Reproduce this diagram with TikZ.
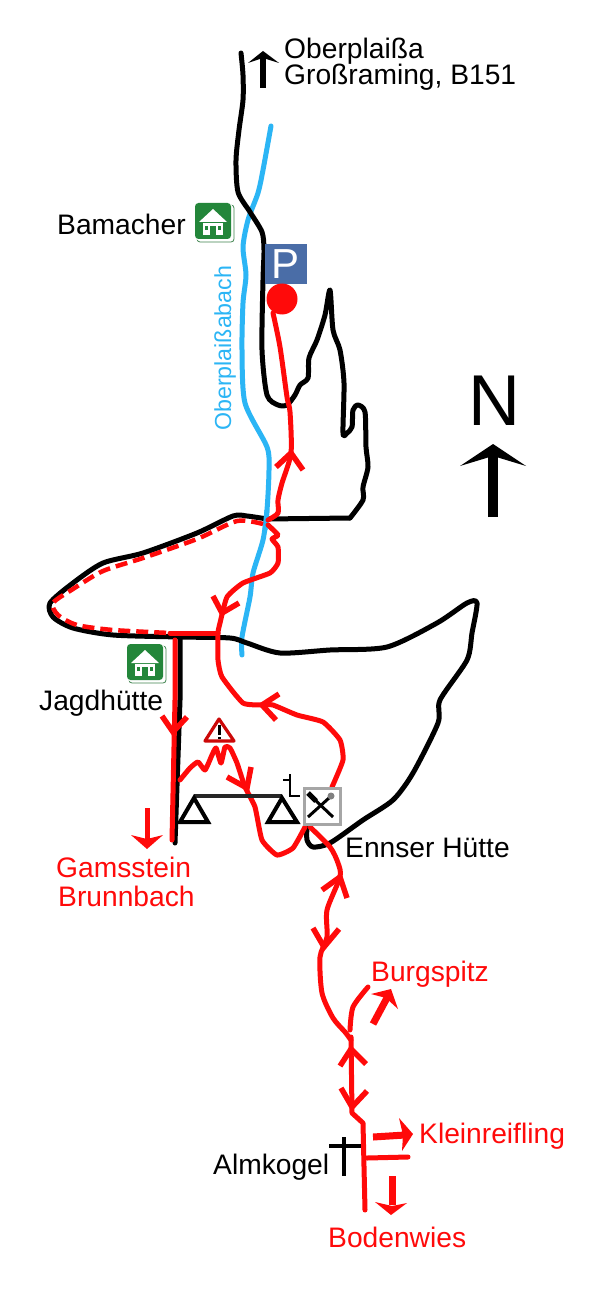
\documentclass[tikz,border=0pt]{standalone}
\usepackage{fontspec}
\setmainfont{Liberation Sans}
\definecolor{rd}{HTML}{FF0A0A}
\definecolor{rv}{HTML}{2BB5F5}
\definecolor{grn}{HTML}{23863A}
\definecolor{pblue}{HTML}{4A6DA7}
\tikzset{
 road/.style={draw=black,line width=5pt,line cap=round,line join=round},
 rivr/.style={draw=rv,line width=5pt,line cap=round,line join=round},
 route/.style={draw=rd,line width=5pt,line cap=round,line join=round},
 dashroute/.style={draw=rd,line width=4.5pt,dash pattern=on 12pt off 6pt,line join=round},
 barb/.style={draw=rd,line width=5.5pt,line join=miter},
 lbl/.style={anchor=base west,inner sep=0pt,font=\fontsize{28.2}{30}\selectfont},
 rlbl/.style={lbl,text=rd},
 curve/.style={smooth,tension=0.45},
}
\newcommand{\hutIcon}[2]{%
 \begin{scope}[shift={(#1,#2)}]
  \draw[grn!70!gray,line width=0.8pt,rounded corners=3pt] (2,2) rectangle (39,39);
  \fill[white,rounded corners=3pt] (0,0) rectangle (37,37);
  \fill[grn,rounded corners=3.5pt] (0,0) rectangle (36,36);
  \fill[white] (18,6) -- (32,19) -- (4,19) -- cycle;
  \fill[white] (8,20) rectangle (28,32);
  \fill[grn] (15,23) rectangle (21,32);
  \fill[grn] (10,23) rectangle (13,27);
  \fill[grn] (23,23) rectangle (26,27);
 \end{scope}}
\begin{document}
\begin{tikzpicture}[x=1pt,y=-1pt]
\useasboundingbox (0,0) rectangle (600,1305);
\fill[white] (0,0) rectangle (600,1305);
% river
\draw[rivr] plot[curve] coordinates {(271,126) (263,170) (258,193) (248,220) (243,247) (246,275) (243,303) (242,350) (245,403) (267,447) (269,470) (267,510) (263,540) (253,573) (250,597) (242,637) (242,655)};
% black roads
\draw[road] plot[curve] coordinates {(241,53) (243,75) (243,100) (239,130) (236,160) (238,192) (250,212) (262,232) (264,250) (263,280) (262,350) (267,395) (278,405) (287,405) (295,395) (300,385) (308,378) (309,358) (317,340) (325,315) (330,290) (333,330) (340,350) (344,383) (343,433) (347,433) (352,427) (353,410) (358,405) (365,412) (366,447) (368,467) (363,487) (363,500) (350,518)};
\draw[road] (350,518) -- (267,519);
\draw[road] plot[curve] coordinates {(267,519) (247,516) (233,516) (197,533) (143,553) (103,563) (73,583) (50,603) (53,617) (73,628) (113,635) (180,637) (230,638) (247,643) (280,653) (330,650) (387,647) (437,623) (467,603) (477,603) (472,633) (467,660) (440,700) (438,723) (413,773) (393,800) (363,820) (330,843) (313,847) (307,840) (307,827)};
\draw[road] (180,637) -- (180,700) -- (175,843);
% river over road at crossing
\draw[rivr,line cap=butt] (267,510) -- (265,530);
% red dashed loop
\draw[dashroute] plot[curve] coordinates {(263,524) (237,521) (197,539) (143,558) (103,571) (73,589) (53,603) (58,615) (77,625) (113,630) (170,633)};
% red route
\draw[route] (170,633) -- (218,633);
\draw[route] (175,640) -- (175,700) -- (172,840);
\draw[route] plot[curve] coordinates {(273,313) (280,347) (287,397) (290,412) (291,453) (282,483) (278,500) (278,513) (268,520)};
\draw[route] plot[curve,tension=0.3] coordinates {(268,525) (278,535) (272,539) (278,547) (278,563) (270,573) (243,583) (227,597) (220,623) (218,633) (218,660) (222,677) (243,703) (263,705) (273,705) (297,715) (323,722) (340,740) (343,760) (332,787)};
\draw[route] plot[curve,tension=0.3] coordinates {(180,780) (190,768) (198,762) (205,770) (212,755) (216,748) (221,763) (225,747) (230,748) (237,763) (245,787) (255,807) (262,840) (277,855) (293,848) (305,827)};
\draw[route] plot[curve] coordinates {(310,827) (330,847) (338,863) (340,877) (327,910) (327,937) (320,957) (322,993) (333,1018) (345,1032) (351,1040)};
\draw[route] (351,1037) -- (352,1113) -- (363,1123) -- (365,1210);
\draw[route] plot[curve] coordinates {(350,1030) (353,1007) (368,987)};
\draw[route] (367,1158) -- (408,1157);
% red barbs
\draw[barb] (276,467) -- (291,453) -- (303,470);
\draw[barb] (213,596) -- (222,613) -- (239,603);
\draw[barb] (279,694) -- (262,705) -- (276,720);
\draw[barb] (162,716) -- (173,732) -- (187,717);
\draw[barb] (227,777) -- (247,788) -- (251,767);
\draw[barb] (322,890) -- (340,877) -- (347,898);
\draw[barb] (313,928) -- (324,947) -- (339,929);
\draw[barb] (340,1066) -- (351,1049) -- (366,1064);
\draw[barb] (341,1088) -- (352,1107) -- (367,1091);
% direction arrows
\draw[rd,line width=5pt] (147,808) -- (147,840);
\fill[rd] (147,849) -- (131,835) -- (147,839) -- (163,835) -- cycle;
\draw[rd,line width=7pt] (373,1024) -- (388,996);
\fill[rd] (391,989) -- (398,1009) -- (386,998) -- (371,994) -- cycle;
\draw[rd,line width=7pt] (373,1137) -- (405,1135);
\fill[rd] (413,1134) -- (399,1118) -- (403,1135) -- (402,1151) -- cycle;
\draw[rd,line width=7pt] (392,1176) -- (392,1205);
\fill[rd] (391,1215) -- (375,1202) -- (392,1206) -- (407,1203) -- cycle;
% black arrows
\draw[black,line width=5.5pt] (263,88) -- (263,58);
\fill[black] (263,51) -- (279,63) -- (263,58) -- (248,63) -- cycle;
\draw[black,line width=10pt] (493,517) -- (493,455);
\fill[black] (493,444) -- (526,466) -- (493,456) -- (460,466) -- cycle;
% saddle triangles
\draw[black!85,line width=4pt] (194,796) -- (282,796);
\draw[black,line width=4pt,line join=miter] (194,798) -- (180,822) -- (208,822) -- cycle;
\draw[black,line width=4pt,line join=miter] (282,798) -- (268,822) -- (297,822) -- cycle;
\draw[black,line width=2.2pt] (283,780) -- (291,780);
\draw[black,line width=2.2pt] (290,774) -- (290,796) -- (300,796);
% warning sign
\draw[rd!80!black,fill=white,line width=3.2pt,line join=round] (219,719) -- (234,741) -- (205,741) -- cycle;
\fill[black] (218,725) rectangle (220.5,735);
\fill[black] (218,736.5) rectangle (220.5,739);
% restaurant box
\node[draw=black!35,fill=white,line width=3pt,minimum width=36pt,minimum height=36pt,inner sep=0pt] (hut) at (322,806) {};
\draw[black,line width=3pt] (308,817) -- (329,798);
\fill[gray] (331,796) circle (3.5pt);
\draw[black,line width=3pt] (312,797) -- (333,817);
\draw[black,line width=5pt] (308,793) -- (316,801);
% parking
\node[fill=pblue,minimum width=42pt,minimum height=40pt,inner sep=0pt,text=white,font=\fontsize{42}{44}\selectfont] (park) at (286,264) {P};
\fill[rd] (282,299) circle (15.5pt);
% Almkogel cross
\draw[black,line width=3.5pt] (344,1137) -- (344,1176);
\draw[black,line width=3.5pt] (329,1146) -- (361,1146);
% hut icons
\hutIcon{195}{203}
\hutIcon{127}{644}
% labels
\node[lbl] (t1) at (284,59) {Oberplaißa};
\node[lbl] (t2) at (284,85) {Großraming, B151};
\node[lbl] (t3) at (57,235) {Bamacher};
\node[lbl,text=rv,rotate=90,font=\fontsize{23.2}{25}\selectfont] (t4) at (231,431) {Oberplaißabach};
\node[lbl] (t5) at (39,710) {Jagdhütte};
\node[rlbl] (t6) at (56,877) {Gamsstein};
\node[rlbl] (t7) at (58,906) {Brunnbach};
\node[lbl] (t8) at (345,857) {Ennser Hütte};
\node[rlbl] (t9) at (371,981) {Burgspitz};
\node[rlbl] (t10) at (419,1143) {Kleinreifling};
\node[lbl] (t11) at (213,1174) {Almkogel};
\node[rlbl] (t12) at (328,1247) {Bodenwies};
\node[lbl,draw=none,font=\fontsize{72}{74}\selectfont] (t13) at (468,425) {N};
\end{tikzpicture}
\end{document}
